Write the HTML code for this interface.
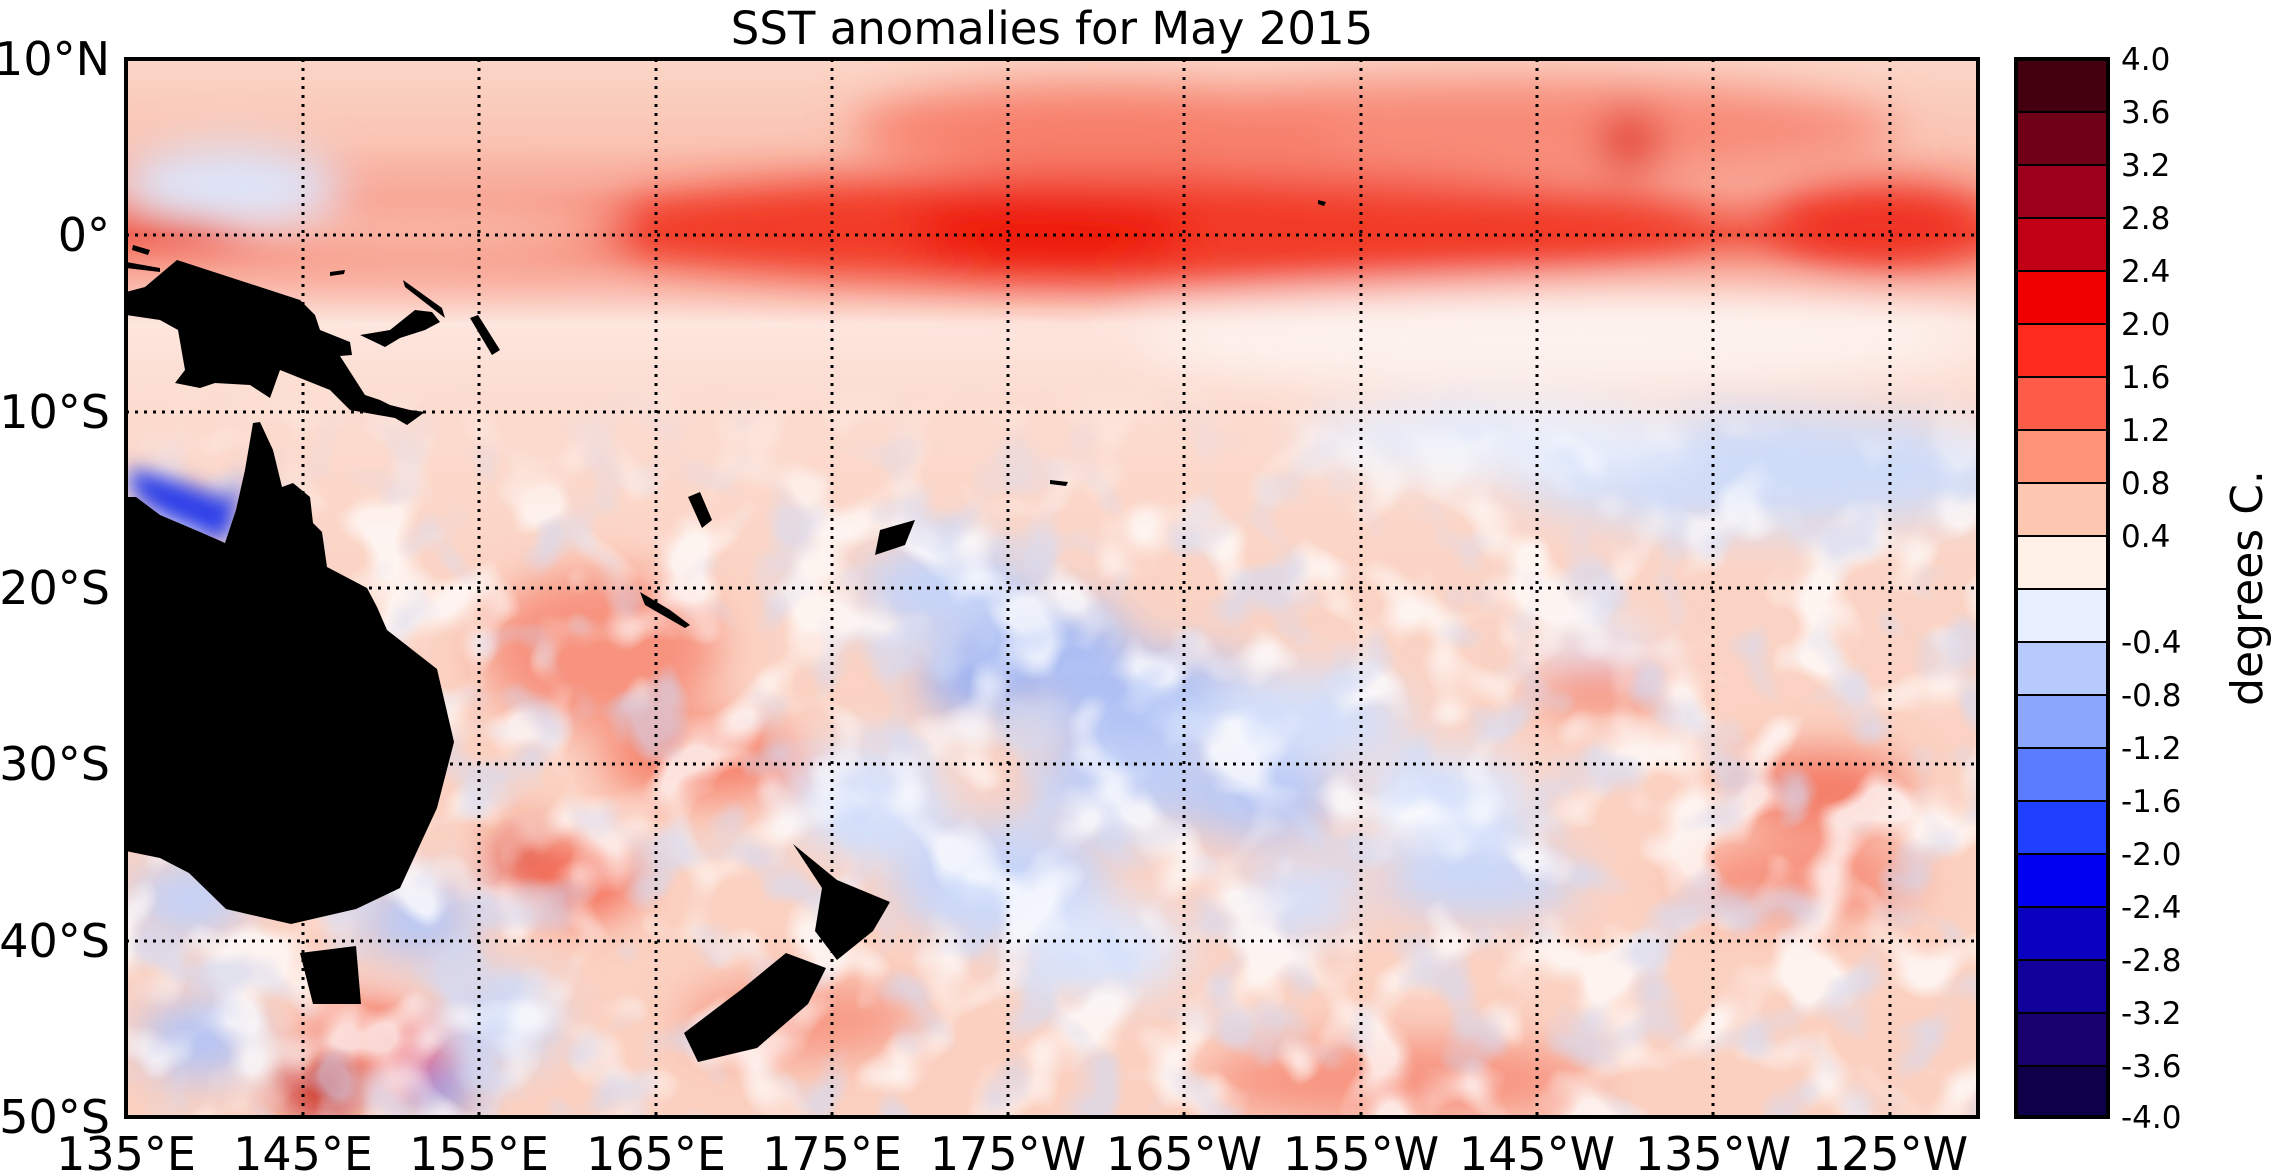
<!DOCTYPE html>
<html><head><meta charset="utf-8"><style>
html,body{margin:0;padding:0;background:#fff;}
svg{display:block;font-family:"DejaVu Sans","Liberation Sans",sans-serif;}
</style></head><body>
<svg width="2280" height="1176" viewBox="0 0 2280 1176" xmlns="http://www.w3.org/2000/svg">
<defs>
<clipPath id="cp"><rect x="126" y="59" width="1852" height="1058"/></clipPath>
<filter id="bl" x="-20%" y="-20%" width="140%" height="140%"><feGaussianBlur stdDeviation="22"/></filter>
<filter id="bs" x="-50%" y="-50%" width="200%" height="200%"><feGaussianBlur stdDeviation="10"/></filter>
<filter id="tx" x="0" y="0" width="100%" height="100%">
<feTurbulence type="fractalNoise" baseFrequency="0.014" numOctaves="2" seed="7"/>
<feColorMatrix type="matrix" values="0 0 0 0 1  0 0 0 0 1  0 0 0 0 1  3 0 0 0 -1.45"/>
<feComponentTransfer><feFuncA type="linear" slope="1.6" intercept="0"/></feComponentTransfer>
</filter>
<filter id="tx2" x="0" y="0" width="100%" height="100%">
<feTurbulence type="fractalNoise" baseFrequency="0.016" numOctaves="2" seed="21"/>
<feColorMatrix type="matrix" values="0 0 0 0 0.62  0 0 0 0 0.72  0 0 0 0 0.97  0 3 0 0 -1.55"/>
<feComponentTransfer><feFuncA type="linear" slope="1.5" intercept="0"/></feComponentTransfer>
</filter>
<linearGradient id="bg" x1="0" y1="0" x2="0" y2="1">
<stop offset="0" stop-color="#fbd6c8"/>
<stop offset="0.08" stop-color="#fac3b2"/>
<stop offset="0.12" stop-color="#f8a898"/>
<stop offset="0.165" stop-color="#f25a48"/>
<stop offset="0.2" stop-color="#f8a494"/>
<stop offset="0.25" stop-color="#fde6de"/>
<stop offset="0.32" stop-color="#fcdcd0"/>
<stop offset="0.5" stop-color="#fbd3c4"/>
<stop offset="1" stop-color="#fbd0c0"/>
</linearGradient>
<linearGradient id="fade" x1="0" y1="0" x2="0" y2="1">
<stop offset="0" stop-color="#fff" stop-opacity="0"/>
<stop offset="0.3" stop-color="#fff" stop-opacity="0"/>
<stop offset="0.45" stop-color="#fff" stop-opacity="1"/>
<stop offset="1" stop-color="#fff" stop-opacity="1"/>
</linearGradient>
<mask id="south"><rect x="126" y="59" width="1852" height="1058" fill="url(#fade)"/></mask>
</defs>
<g clip-path="url(#cp)">
<rect x="126" y="59" width="1852" height="1058" fill="url(#bg)"/>
<g filter="url(#bl)">
<ellipse cx="1150" cy="228" rx="560" ry="55" fill="#f23a28"/>
<ellipse cx="1050" cy="232" rx="140" ry="45" fill="#ee1a0e"/>
<ellipse cx="1880" cy="225" rx="110" ry="40" fill="#f03020"/>
<ellipse cx="1500" cy="130" rx="400" ry="50" fill="#f88a78"/>
<ellipse cx="1100" cy="130" rx="250" ry="45" fill="#f7806c"/>
<ellipse cx="1630" cy="142" rx="30" ry="30" fill="#e02818"/>
<ellipse cx="420" cy="230" rx="200" ry="40" fill="#f9b6a4"/>
<ellipse cx="230" cy="185" rx="110" ry="40" fill="#dde6fb"/>
<ellipse cx="1560" cy="340" rx="420" ry="45" fill="#fdf2ee"/>
<ellipse cx="1760" cy="470" rx="260" ry="60" fill="#cfdcf8"/>
<ellipse cx="1500" cy="440" rx="200" ry="40" fill="#e8eefb"/>
<ellipse cx="950" cy="590" rx="90" ry="50" fill="#c6d4f8"/>
<ellipse cx="1060" cy="640" rx="70" ry="40" fill="#a9bdf4"/>
<ellipse cx="980" cy="680" rx="60" ry="40" fill="#9fb4f2"/>
<ellipse cx="1160" cy="700" rx="120" ry="50" fill="#aec0f4"/>
<ellipse cx="1120" cy="780" rx="90" ry="50" fill="#c1cff6"/>
<ellipse cx="1300" cy="720" rx="110" ry="50" fill="#d5e0f9"/>
<ellipse cx="1260" cy="800" rx="80" ry="40" fill="#b8c8f6"/>
<ellipse cx="870" cy="800" rx="80" ry="60" fill="#d8e2fa"/>
<ellipse cx="1000" cy="880" rx="110" ry="60" fill="#c8d5f8"/>
<ellipse cx="1450" cy="800" rx="90" ry="50" fill="#dde6fb"/>
<ellipse cx="1480" cy="880" rx="100" ry="40" fill="#cad7f8"/>
<ellipse cx="1100" cy="950" rx="90" ry="50" fill="#dfe7fb"/>
<ellipse cx="1600" cy="660" rx="60" ry="40" fill="#e4ebfb"/>
<ellipse cx="1300" cy="900" rx="60" ry="40" fill="#d6e0fa"/>
<ellipse cx="600" cy="650" rx="120" ry="80" fill="#f7937f"/>
<ellipse cx="700" cy="760" rx="100" ry="40" fill="#f6826c"/>
<ellipse cx="525" cy="860" rx="30" ry="28" fill="#d8200f"/>
<ellipse cx="580" cy="880" rx="60" ry="40" fill="#f46a55"/>
<ellipse cx="1820" cy="790" rx="90" ry="40" fill="#f47b66"/>
<ellipse cx="1600" cy="690" rx="70" ry="30" fill="#f6947f"/>
<ellipse cx="1800" cy="880" rx="120" ry="40" fill="#f7917d"/>
<ellipse cx="1400" cy="1080" rx="200" ry="40" fill="#f7937f"/>
<ellipse cx="800" cy="1020" rx="120" ry="40" fill="#f79a86"/>
<ellipse cx="200" cy="1040" rx="60" ry="40" fill="#b3c5f6"/>
<ellipse cx="190" cy="900" rx="60" ry="40" fill="#c3d1f7"/>
<ellipse cx="420" cy="920" rx="60" ry="40" fill="#b9c9f6"/>
<ellipse cx="500" cy="1020" rx="60" ry="50" fill="#ccd9f8"/>
<ellipse cx="440" cy="1090" rx="30" ry="25" fill="#6f8cee"/>
<ellipse cx="360" cy="1035" rx="50" ry="30" fill="#f4604a"/>
<ellipse cx="320" cy="1090" rx="40" ry="30" fill="#c41410"/>
<ellipse cx="410" cy="1050" rx="40" ry="25" fill="#ec2a18"/>
</g>
<g mask="url(#south)" opacity="0.75">
<rect x="126" y="59" width="1852" height="1058" filter="url(#tx)"/>
<rect x="126" y="59" width="1852" height="1058" filter="url(#tx2)" opacity="0.7"/>
</g>
<path d="M126 470 L140 470 L175 480 L230 500 L245 470 L236 510 L225 543 L200 532 L160 515 L136 497 Z" fill="#2a3ee8" filter="url(#bs)"/>
<g stroke="#000" stroke-width="3" stroke-dasharray="3,6">
<line x1="303" y1="59" x2="303" y2="1117"/><line x1="479" y1="59" x2="479" y2="1117"/>
<line x1="656" y1="59" x2="656" y2="1117"/><line x1="832" y1="59" x2="832" y2="1117"/>
<line x1="1008" y1="59" x2="1008" y2="1117"/><line x1="1184" y1="59" x2="1184" y2="1117"/>
<line x1="1361" y1="59" x2="1361" y2="1117"/><line x1="1537" y1="59" x2="1537" y2="1117"/>
<line x1="1713" y1="59" x2="1713" y2="1117"/><line x1="1890" y1="59" x2="1890" y2="1117"/>
<line x1="126" y1="235" x2="1978" y2="235"/><line x1="126" y1="412" x2="1978" y2="412"/>
<line x1="126" y1="588" x2="1978" y2="588"/><line x1="126" y1="764" x2="1978" y2="764"/>
<line x1="126" y1="941" x2="1978" y2="941"/>
</g>
<g fill="#000">
<path d="M126 292 L145 287 L177 260 L300 300 L315 315 L320 330 L350 342 L352 355 L340 356 L365 395 L380 400 L390 405 L410 410 L425 412 L407 425 L395 418 L350 410 L330 390 L300 378 L280 370 L270 398 L250 385 L215 383 L200 388 L175 383 L185 370 L178 330 L160 320 L126 315 Z"/>
<path d="M360 335 L390 330 L415 310 L432 312 L440 322 L425 330 L400 338 L385 347 Z"/>
<path d="M470 318 L478 315 L500 350 L492 355 Z"/>
<path d="M403 280 L442 308 L445 318 L405 287 Z"/>
<path d="M330 272 L345 270 L344 274 L330 276 Z"/>
<path d="M133 245 L150 250 L148 255 L132 250 Z"/>
<path d="M126 262 L160 268 L160 272 L126 268 Z"/>
<path d="M126 497 L136 497 L160 515 L200 532 L225 543 L236 510 L245 470 L253 423 L260 422 L273 450 L282 487 L293 483 L310 497 L313 523 L322 532 L327 567 L367 588 L377 607 L387 630 L437 669 L454 742 L437 808 L400 888 L356 909 L291 924 L226 909 L189 873 L160 858 L126 851 Z"/>
<path d="M300 953 L356 946 L361 1004 L313 1004 Z"/>
<path d="M793 844 L837 880 L890 902 L873 931 L837 960 L815 931 L822 888 Z"/>
<path d="M786 953 L826 968 L808 1004 L757 1048 L698 1062 L684 1033 L742 989 Z"/>
<path d="M688 497 L700 492 L712 520 L702 528 Z"/>
<path d="M640 592 L670 610 L690 625 L685 628 L645 605 Z"/>
<path d="M880 530 L915 520 L905 545 L875 555 Z"/>
<path d="M1050 480 L1068 482 L1066 486 L1050 484 Z"/>
<path d="M1318 200 L1326 202 L1324 206 L1318 204 Z"/>
</g>
</g>
<rect x="126" y="59" width="1852" height="1058" fill="none" stroke="#000" stroke-width="4"/>
<g stroke="#000" stroke-width="2">
<rect x="2016" y="59" width="92" height="53" fill="#45000f"/>
<rect x="2016" y="112" width="92" height="53" fill="#6f0018"/>
<rect x="2016" y="165" width="92" height="53" fill="#9c001c"/>
<rect x="2016" y="218" width="92" height="53" fill="#c20016"/>
<rect x="2016" y="271" width="92" height="53" fill="#f00000"/>
<rect x="2016" y="324" width="92" height="53" fill="#ff2a1e"/>
<rect x="2016" y="377" width="92" height="53" fill="#fd5c48"/>
<rect x="2016" y="430" width="92" height="53" fill="#fd9478"/>
<rect x="2016" y="483" width="92" height="53" fill="#fdc6b0"/>
<rect x="2016" y="536" width="92" height="53" fill="#fff0e8"/>
<rect x="2016" y="589" width="92" height="53" fill="#e8efff"/>
<rect x="2016" y="642" width="92" height="53" fill="#b8cafd"/>
<rect x="2016" y="695" width="92" height="53" fill="#8aa6fd"/>
<rect x="2016" y="748" width="92" height="53" fill="#5a7cfd"/>
<rect x="2016" y="801" width="92" height="53" fill="#2040ff"/>
<rect x="2016" y="854" width="92" height="53" fill="#0000f0"/>
<rect x="2016" y="907" width="92" height="53" fill="#0a00c0"/>
<rect x="2016" y="960" width="92" height="53" fill="#12009a"/>
<rect x="2016" y="1013" width="92" height="53" fill="#18006e"/>
<rect x="2016" y="1066" width="92" height="51" fill="#0e0048"/>
</g>
<rect x="2016" y="59" width="92" height="1058" fill="none" stroke="#000" stroke-width="4"/>
<g font-size="31" fill="#000">
<text x="2121" y="70">4.0</text><text x="2121" y="123">3.6</text><text x="2121" y="176">3.2</text>
<text x="2121" y="229">2.8</text><text x="2121" y="282">2.4</text><text x="2121" y="335">2.0</text>
<text x="2121" y="388">1.6</text><text x="2121" y="441">1.2</text><text x="2121" y="494">0.8</text>
<text x="2121" y="547">0.4</text>
<text x="2121" y="653">-0.4</text><text x="2121" y="706">-0.8</text><text x="2121" y="759">-1.2</text>
<text x="2121" y="812">-1.6</text><text x="2121" y="865">-2.0</text><text x="2121" y="918">-2.4</text>
<text x="2121" y="971">-2.8</text><text x="2121" y="1024">-3.2</text><text x="2121" y="1077">-3.6</text>
<text x="2121" y="1128">-4.0</text>
</g>
<text transform="translate(2262,588) rotate(-90)" text-anchor="middle" font-size="44">degrees C.</text>
<text x="1052" y="44" text-anchor="middle" font-size="45">SST anomalies for May 2015</text>
<g font-size="46" text-anchor="end">
<text x="110" y="75">10°N</text><text x="110" y="251">0°</text><text x="110" y="428">10°S</text>
<text x="110" y="604">20°S</text><text x="110" y="780">30°S</text><text x="110" y="957">40°S</text>
<text x="110" y="1133">50°S</text>
</g>
<g font-size="46" text-anchor="middle">
<text x="126" y="1170">135°E</text><text x="303" y="1170">145°E</text><text x="479" y="1170">155°E</text>
<text x="656" y="1170">165°E</text><text x="832" y="1170">175°E</text><text x="1008" y="1170">175°W</text>
<text x="1184" y="1170">165°W</text><text x="1361" y="1170">155°W</text><text x="1537" y="1170">145°W</text>
<text x="1713" y="1170">135°W</text><text x="1890" y="1170">125°W</text>
</g>
</svg>
</body></html>
